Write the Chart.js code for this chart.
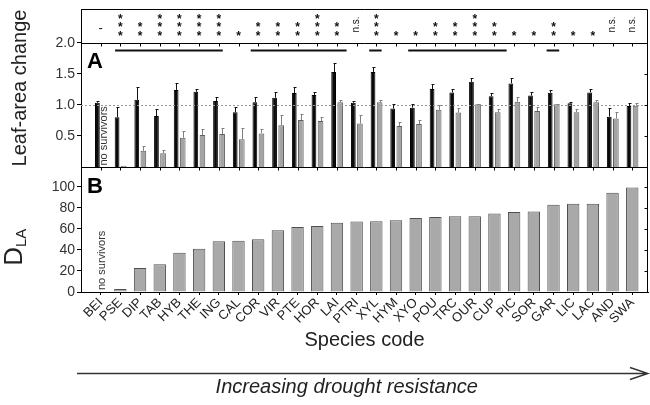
<!doctype html>
<html lang="en">
<head>
<meta charset="utf-8">
<title>Leaf-area change and D_LA by species</title>
<script src="https://cdn.jsdelivr.net/npm/chart.js"></script>
<style>
  html, body { margin: 0; padding: 0; background: #fff; }
  #wrap { width: 650px; height: 405px; }
</style>
</head>
<body>
<div id="wrap"><canvas id="speciesChart" width="650" height="405"></canvas></div>
<script>
// species, ordered by increasing drought resistance
const species = ['BEI','PSE','DIP','TAB','HYB','THE','ING','CAL','COR','VIR','PTE','HOR','LAI','PTRI',
                 'XYL','HYM','XYO','POU','TRC','OUR','CUP','PIC','SOR','GAR','LIC','LAC','AND','SWA'];

// panel A: leaf-area change, black bars (watered) and gray bars (drought), with upper error
const leafWet    = [1.035,0.80,1.08,0.82,1.24,1.21,1.06,0.88,1.04,1.115,1.19,1.16,1.53,1.035,
                    1.53,0.94,0.955,1.255,1.20,1.37,1.14,1.345,1.15,1.195,1.025,1.20,0.81,0.98];
const leafWetErr = [0.02,0.17,0.20,0.11,0.11,0.04,0.07,0.08,0.08,0.085,0.09,0.05,0.15,0.02,
                    0.08,0.08,0.065,0.075,0.05,0.06,0.045,0.085,0.05,0.045,0.025,0.05,0.145,0.045];
const leafDry    = [null,0.02,0.26,0.22,0.47,0.515,0.53,0.445,0.54,0.67,0.756,0.74,1.04,0.70,
                    1.04,0.66,0.69,0.92,0.875,1.01,0.88,1.05,0.90,1.01,0.88,1.04,0.78,0.985];
const leafDryErr = [0,0,0.07,0.05,0.11,0.095,0.09,0.185,0.07,0.17,0.10,0.07,0.04,0.14,
                    0.04,0.07,0.07,0.08,0.07,0.01,0.05,0.08,0.06,0.01,0.05,0.04,0.10,0.045];

// panel B: D_LA
const dla = [null,2.8,22.9,26.4,37.4,41.1,48.4,48.7,50.3,58.8,61.9,62.8,66,67,
             67.3,68.2,70.4,71.3,72,72,74.8,76.2,76.7,83,83.9,84,94.6,99.4];

// significance marks above panel A, and the bars under them (in category units)
const significance = ['-','***','**','***','***','***','***','*','**','**','**','***','**','n.s.',
                      '***','*','*','**','**','***','**','*','*','**','*','*','n.s.','n.s.'];
const sigGroups = [[0.73, 6.2], [7.62, 12.49], [13.64, 14.27], [15.62, 20.62], [22.65, 23.29]];

const yATicks = [0.5, 1.0, 1.5, 2.0];
const yBTicks = [0, 20, 40, 60, 80, 100];

const FONT = '"Liberation Sans", Arial, Helvetica, sans-serif';
Chart.defaults.font.family = FONT;
Chart.defaults.color = '#222';

const toXY = arr => arr.map((v, i) => ({ x: i, y: v }));

// draws the frame, error bars, stars, panel letters and the arrow
const annotate = {
  id: 'annotate',
  afterDatasetsDraw(chart) {
    const { ctx, chartArea: ca, scales } = chart;
    const x = scales.x, yA = scales.yA, yB = scales.yB;
    const px = v => Math.round(x.getPixelForValue(v)) + 0.5;
    const y2 = Math.round(yA.getPixelForValue(2)) + 0.5;
    const y0 = Math.round(yA.getPixelForValue(0)) + 0.5;
    const top = Math.round(ca.top) + 0.5;
    const right = Math.round(ca.right) - 0.5;
    ctx.save();

    // dotted line at 1.0
    ctx.strokeStyle = '#999'; ctx.lineWidth = 1; ctx.setLineDash([2, 2]);
    const y1 = Math.round(yA.getPixelForValue(1)) + 0.5;
    ctx.beginPath(); ctx.moveTo(ca.left, y1); ctx.lineTo(right, y1); ctx.stroke();
    ctx.setLineDash([]);

    // frame and tick marks
    ctx.strokeStyle = '#000';
    ctx.beginPath();
    ctx.moveTo(ca.left, top); ctx.lineTo(right, top); ctx.lineTo(right, ca.bottom);
    ctx.moveTo(ca.left, y2); ctx.lineTo(right, y2);
    ctx.moveTo(ca.left, y0); ctx.lineTo(right, y0);
    species.forEach((s, i) => {
      ctx.moveTo(px(i), y2); ctx.lineTo(px(i), y2 + 3);
      ctx.moveTo(px(i), y0); ctx.lineTo(px(i), y0 + 3);
    });
    yATicks.forEach(v => {
      const yy = Math.round(yA.getPixelForValue(v)) + 0.5;
      ctx.moveTo(right, yy); ctx.lineTo(right - 3, yy);
    });
    yBTicks.slice(1).forEach(v => {
      const yy = Math.round(yB.getPixelForValue(v)) + 0.5;
      ctx.moveTo(right, yy); ctx.lineTo(right - 3, yy);
    });
    ctx.stroke();

    // error bars
    [[0, leafWet, leafWetErr, '#111'], [1, leafDry, leafDryErr, '#808080']].forEach(([di, vals, errs, col]) => {
      const meta = chart.getDatasetMeta(di);
      ctx.strokeStyle = col;
      meta.data.forEach((bar, i) => {
        if (vals[i] == null || !errs[i]) return;
        const bx = Math.round(bar.x) + 0.5;
        const yt = Math.round(yA.getPixelForValue(vals[i] + errs[i])) + 0.5;
        ctx.beginPath();
        ctx.moveTo(bx, bar.y); ctx.lineTo(bx, yt);
        ctx.moveTo(bx - 1, yt); ctx.lineTo(bx + 2, yt);
        ctx.stroke();
      });
    });

    // significance marks
    ctx.fillStyle = '#111';
    significance.forEach((s, i) => {
      const cx = x.getPixelForValue(i);
      if (s === 'n.s.') {
        ctx.save();
        ctx.translate(cx, y2 - 19);
        ctx.rotate(-Math.PI / 2);
        ctx.font = '10px ' + FONT;
        ctx.textAlign = 'center'; ctx.textBaseline = 'middle';
        ctx.fillText(s, 0, 0);
        ctx.restore();
      } else if (s === '-') {
        ctx.font = '13px ' + FONT;
        ctx.textAlign = 'center'; ctx.textBaseline = 'alphabetic';
        ctx.fillText('-', cx, y2 - 15 + 0.28 * 13);
      } else {
        ctx.font = 'bold 12px ' + FONT;
        ctx.textAlign = 'center'; ctx.textBaseline = 'alphabetic';
        for (let k = 0; k < s.length; k++) {
          ctx.fillText('*', cx, y2 - 11 - k * 8.3 + 0.59 * 12);
        }
      }
    });

    // group bars under the 2.0 line
    ctx.strokeStyle = '#111'; ctx.lineWidth = 2;
    ctx.beginPath();
    sigGroups.forEach(([a, b]) => {
      ctx.moveTo(x.getPixelForValue(a), y2 + 7); ctx.lineTo(x.getPixelForValue(b), y2 + 7);
    });
    ctx.stroke();

    // panel letters
    ctx.fillStyle = '#000';
    ctx.font = 'bold 22px ' + FONT;
    ctx.textAlign = 'left'; ctx.textBaseline = 'alphabetic';
    ctx.fillText('A', ca.left + 6, y2 + 24.5);
    ctx.fillText('B', ca.left + 6, y0 + 25);

    // no survivors
    ctx.fillStyle = '#333';
    ctx.font = '11px ' + FONT;
    ctx.textBaseline = 'middle';
    [[x.getPixelForValue(0) + 3.5, y0 - 2], [x.getPixelForValue(0) + 1.5, ca.bottom - 2]].forEach(([tx, ty]) => {
      ctx.save();
      ctx.translate(tx, ty);
      ctx.rotate(-Math.PI / 2);
      ctx.fillText('no survivors', 0, 0);
      ctx.restore();
    });

    // D_LA axis title
    ctx.save();
    ctx.fillStyle = '#222';
    ctx.translate(22, (y0 + ca.bottom) / 2 + 36);
    ctx.rotate(-Math.PI / 2);
    ctx.textBaseline = 'alphabetic'; ctx.textAlign = 'left';
    ctx.font = '26px ' + FONT;
    ctx.fillText('D', 0, 0);
    const dw = ctx.measureText('D').width;
    ctx.font = '15px ' + FONT;
    ctx.fillText('LA', dw, 4);
    ctx.restore();

    // arrow and caption
    const ay = ca.bottom + 81.5;
    ctx.strokeStyle = '#333'; ctx.lineWidth = 1.5;
    ctx.beginPath();
    ctx.moveTo(ca.left - 4, ay); ctx.lineTo(ca.right, ay);
    ctx.moveTo(ca.right - 18, ay - 6); ctx.lineTo(ca.right, ay); ctx.lineTo(ca.right - 18, ay + 6);
    ctx.stroke();
    ctx.fillStyle = '#222';
    ctx.font = 'italic 20px ' + FONT;
    ctx.textAlign = 'center'; ctx.textBaseline = 'alphabetic';
    ctx.fillText('Increasing drought resistance', x.getPixelForValue(12.5), ay + 19.5);

    ctx.restore();
  }
};

const yCommon = {
  position: 'left',
  stack: 'panels',
  grid: { drawOnChartArea: false, drawTicks: true, tickLength: 4, color: '#000' },
  border: { display: true, color: '#000', width: 1 },
  afterFit: s => { s.width = 81; s.paddingTop = 0; s.paddingBottom = 0; }
};

new Chart(document.getElementById('speciesChart'), {
  type: 'bar',
  data: {
    datasets: [
      { label: 'watered', data: toXY(leafWet), yAxisID: 'yA',
        backgroundColor: '#0a0a0a', borderColor: '#000', borderWidth: 1,
        categoryPercentage: 0.67, barPercentage: 0.72 },
      { label: 'drought', data: toXY(leafDry), yAxisID: 'yA',
        backgroundColor: '#a4a4a4', borderColor: '#5f5f5f', borderWidth: 1,
        categoryPercentage: 0.67, barPercentage: 0.86 },
      { label: 'DLA', data: toXY(dla), yAxisID: 'yB', grouped: false,
        backgroundColor: '#a9a9a9', borderColor: '#4f4f4f', borderWidth: 1,
        categoryPercentage: 1, barPercentage: 0.63 }
    ]
  },
  options: {
    responsive: false,
    animation: false,
    devicePixelRatio: 1,
    layout: { padding: { top: 9, right: 2, bottom: 50, left: 0 } },
    plugins: { legend: { display: false }, tooltip: { enabled: false } },
    scales: {
      x: {
        type: 'linear', min: -1, max: 27.8, offset: false,
        afterBuildTicks: s => { s.ticks = species.map((_, i) => ({ value: i })); },
        ticks: { autoSkip: false, minRotation: 45, maxRotation: 45, padding: 0,
                 font: { size: 13 }, color: '#222', callback: v => species[v] ?? '' },
        grid: { drawOnChartArea: false, drawTicks: true, tickLength: 3, color: '#000', offset: false },
        border: { display: true, color: '#000', width: 1 },
        title: { display: true, text: 'Species code', font: { size: 20 }, color: '#222',
                 padding: { top: 0, bottom: 3 } },
        afterFit: s => { s.height = 63; s.paddingLeft = 0; s.paddingRight = 0; }
      },
      yB: Object.assign({}, yCommon, {
        weight: 1, stackWeight: 125, min: 0, max: 119,
        afterBuildTicks: s => { s.ticks = yBTicks.map(v => ({ value: v })); },
        ticks: { autoSkip: false, font: { size: 14 }, color: '#333', padding: 2 }
      }),
      yA: Object.assign({}, yCommon, {
        weight: 2, stackWeight: 158, min: 0, max: 2.542,
        afterBuildTicks: s => { s.ticks = yATicks.map(v => ({ value: v })); },
        ticks: { autoSkip: false, font: { size: 14 }, color: '#333', padding: 2, callback: v => v.toFixed(1) },
        title: { display: true, text: 'Leaf-area change', font: { size: 20 }, color: '#222',
                 padding: { top: 8, bottom: 0 } }
      })
    }
  },
  plugins: [annotate]
});
</script>
</body>
</html>
